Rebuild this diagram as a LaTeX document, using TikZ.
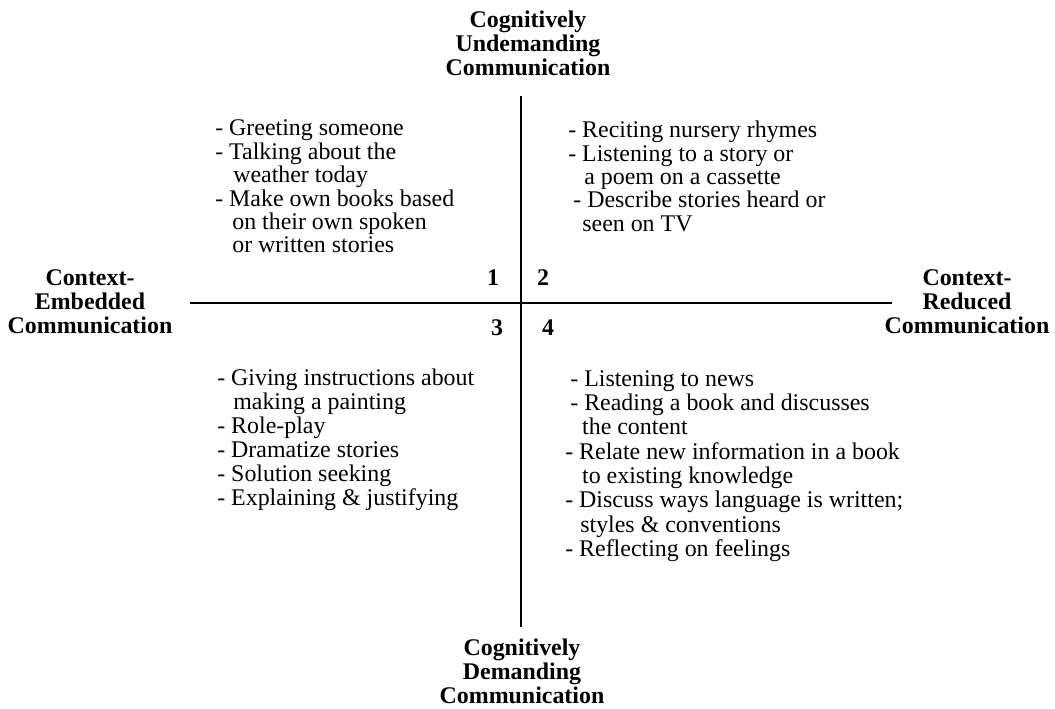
\documentclass[tikz,border=0pt]{standalone}
\usepackage{fontspec}
\setmainfont{Liberation Serif}
\usetikzlibrary{positioning}

\newcommand{\indby}[1]{\hspace*{#1pt}}

\tikzset{
  axislabel/.style={font=\fontsize{17}{17.1}\selectfont\bfseries, align=center, inner sep=0pt, anchor=north},
  itemlist/.style={font=\fontsize{17}{#1}\selectfont, inner sep=0pt, anchor=north west},
  quadnum/.style={font=\fontsize{17}{17}\selectfont\bfseries, inner sep=0pt, anchor=base},
  axisline/.style={line width=1.3pt}
}

\begin{document}
\begin{tikzpicture}[x=0.025cm, y=-0.025cm]
    \useasboundingbox (0,0) rectangle (1055,709);

    % Axis labels
    \node[axislabel] (undemanding) at (528,11) {Cognitively\\Undemanding\\Communication};
    \node[axislabel] (demanding) at (522,639) {Cognitively\\Demanding\\Communication};
    \node[axislabel] (embedded) at (90,269) {Context-\\Embedded\\Communication};
    \node[axislabel] (reduced) at (967,269) {Context-\\Reduced\\Communication};

    % The two axes
    \coordinate (vtop) at (521,96);
    \coordinate (vbot) at (521,627);
    \coordinate (hleft) at (190,303);
    \coordinate (hright) at (892,303);
    \draw[axisline] (vtop) -- (vbot);
    \draw[axisline] (hleft) -- (hright);

    % Quadrant numbers
    \node[quadnum] (n1) at (493,286) {1};
    \node[quadnum] (n2) at (543,286) {2};
    \node[quadnum] (n3) at (497,335) {3};
    \node[quadnum] (n4) at (548,335) {4};

    % Quadrant 1
    \node[itemlist=16.5] (q1) at (215,119) {\begin{tabular}{@{}l@{}}
        - Greeting someone\\
        - Talking about the\\
        \indby{12.8}weather today\\
        - Make own books based\\
        \indby{12.1}on their own spoken\\
        \indby{12.1}or written stories
    \end{tabular}};

    % Quadrant 2
    \node[itemlist=16.5] (q2) at (568,121) {\begin{tabular}{@{}l@{}}
        - Reciting nursery rhymes\\
        - Listening to a story or\\
        \indby{11.4}a poem on a cassette\\
        \indby{3.6}- Describe stories heard or\\
        \indby{10}seen on TV
    \end{tabular}};

    % Quadrant 3
    \node[itemlist=17.1] (q3) at (217,368) {\begin{tabular}{@{}l@{}}
        - Giving instructions about\\
        \indby{11.4}making a painting\\
        - Role-play\\
        - Dramatize stories\\
        - Solution seeking\\
        - Explaining \& justifying
    \end{tabular}};

    % Quadrant 4
    \node[itemlist=17.3] (q4) at (565,369) {\begin{tabular}{@{}l@{}}
        \indby{3.6}- Listening to news\\
        \indby{3.6}- Reading a book and discusses\\
        \indby{12}the content\\
        - Relate new information in a book\\
        \indby{12}to existing knowledge\\
        - Discuss ways language is written;\\
        \indby{10.7}styles \& conventions\\
        - Reflecting on feelings
    \end{tabular}};
\end{tikzpicture}
\end{document}
